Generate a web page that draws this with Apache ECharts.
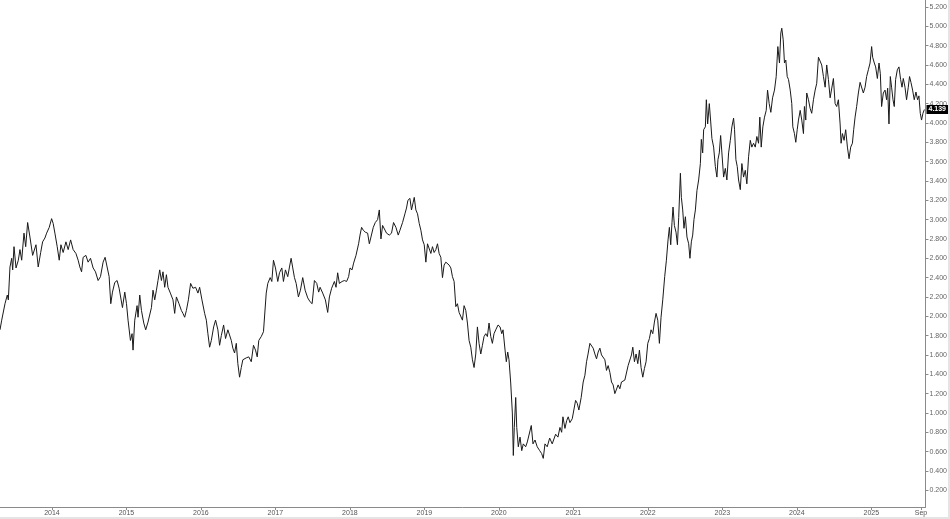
<!DOCTYPE html>
<html>
<head>
<meta charset="utf-8">
<script src="https://cdn.jsdelivr.net/npm/echarts@6/dist/echarts.min.js"></script>
<style>html,body{margin:0;padding:0;background:#fff}#chart{width:950px;height:519px}</style>
</head>
<body>
<div id="chart"></div>
<script>
// Dates as decimal years
const dates = [
2013.303,2013.326,2013.370,2013.401,2013.415,2013.437,2013.460,2013.473,2013.491,2013.518,2013.549,2013.571,2013.594,2013.625,2013.648,2013.674,2013.705,2013.741,2013.763,2013.786,2013.816,2013.849,2013.875,2013.906,2013.929,2013.964,2013.996,
2014.017,2014.040,2014.071,2014.098,2014.121,2014.151,2014.188,2014.218,2014.251,2014.285,2014.322,2014.352,2014.375,2014.398,2014.419,2014.456,2014.486,2014.518,2014.553,2014.585,2014.620,2014.652,2014.687,2014.714,2014.741,2014.768,2014.790,2014.813,2014.844,2014.875,2014.902,2014.924,2014.947,2014.978,
2015.001,2015.022,2015.054,2015.076,2015.089,2015.112,2015.143,2015.156,2015.179,2015.202,2015.233,2015.259,2015.290,2015.336,2015.357,2015.380,2015.403,2015.424,2015.447,2015.470,2015.491,2015.514,2015.537,2015.558,2015.590,2015.625,2015.648,2015.671,2015.706,2015.738,2015.759,2015.782,2015.805,2015.832,2015.862,2015.893,2015.929,2015.960,2015.983,
2016.014,2016.050,2016.073,2016.094,2016.117,2016.140,2016.171,2016.197,2016.228,2016.251,2016.274,2016.305,2016.331,2016.362,2016.385,2016.408,2016.429,2016.452,2016.475,2016.496,2016.519,2016.542,2016.563,2016.586,2016.609,2016.643,2016.676,2016.706,2016.733,2016.756,2016.777,2016.810,2016.840,2016.863,2016.877,2016.898,2016.930,2016.952,2016.974,
2017.001,2017.032,2017.055,2017.086,2017.108,2017.135,2017.166,2017.189,2017.211,2017.233,2017.256,2017.279,2017.309,2017.336,2017.367,2017.399,2017.434,2017.466,2017.493,2017.524,2017.555,2017.581,2017.600,2017.635,2017.671,2017.702,2017.725,2017.755,2017.792,2017.814,2017.836,2017.859,2017.895,2017.926,2017.956,2017.983,
2018.002,2018.029,2018.050,2018.082,2018.117,2018.136,2018.157,2018.180,2018.207,2018.238,2018.261,2018.283,2018.314,2018.341,2018.372,2018.395,2018.417,2018.439,2018.462,2018.492,2018.529,2018.559,2018.586,2018.618,2018.649,2018.672,2018.707,2018.739,2018.760,2018.779,2018.806,2018.827,2018.850,2018.864,2018.886,2018.908,2018.931,2018.953,2018.975,2018.998,
2019.020,2019.042,2019.064,2019.087,2019.109,2019.131,2019.154,2019.176,2019.198,2019.221,2019.243,2019.265,2019.288,2019.310,2019.332,2019.355,2019.377,2019.399,2019.422,2019.444,2019.466,2019.489,2019.511,2019.533,2019.556,2019.578,2019.600,2019.623,2019.645,2019.667,2019.690,2019.712,2019.734,2019.757,2019.779,2019.801,2019.824,2019.846,2019.868,2019.891,2019.913,2019.935,2019.958,2019.989,
2020.016,2020.039,2020.056,2020.083,2020.100,2020.119,2020.136,2020.159,2020.181,2020.194,2020.207,2020.226,2020.240,2020.261,2020.284,2020.307,2020.328,2020.360,2020.382,2020.404,2020.435,2020.458,2020.485,2020.515,2020.548,2020.574,2020.596,2020.619,2020.649,2020.682,2020.716,2020.762,2020.793,2020.820,2020.843,2020.860,2020.887,2020.910,2020.931,2020.954,2020.985,
2021.007,2021.030,2021.052,2021.074,2021.105,2021.132,2021.155,2021.177,2021.195,2021.222,2021.244,2021.266,2021.289,2021.311,2021.333,2021.356,2021.378,2021.400,2021.423,2021.445,2021.467,2021.490,2021.512,2021.534,2021.557,2021.579,2021.601,2021.624,2021.646,2021.668,2021.691,2021.713,2021.735,2021.758,2021.780,2021.798,2021.820,2021.842,2021.865,2021.887,2021.909,2021.932,2021.954,2021.976,2021.999,
2022.021,2022.043,2022.066,2022.088,2022.110,2022.133,2022.155,2022.177,2022.200,2022.226,2022.249,2022.271,2022.289,2022.307,2022.324,2022.338,2022.356,2022.378,2022.397,2022.414,2022.437,2022.450,2022.468,2022.485,2022.504,2022.525,2022.548,2022.565,2022.584,2022.602,2022.619,2022.638,2022.659,2022.682,2022.705,2022.718,2022.736,2022.749,2022.772,2022.785,2022.803,2022.825,2022.843,2022.860,2022.883,2022.906,2022.927,2022.941,2022.959,2022.977,2022.994,
2023.017,2023.040,2023.061,2023.084,2023.107,2023.128,2023.151,2023.164,2023.182,2023.200,2023.218,2023.241,2023.262,2023.285,2023.308,2023.329,2023.352,2023.375,2023.396,2023.419,2023.442,2023.463,2023.486,2023.503,2023.522,2023.544,2023.566,2023.589,2023.607,2023.629,2023.651,2023.674,2023.700,2023.723,2023.745,2023.767,2023.785,2023.798,2023.817,2023.834,2023.852,2023.871,2023.888,2023.911,2023.932,2023.946,2023.968,2023.986,
2024.005,2024.022,2024.045,2024.066,2024.089,2024.102,2024.120,2024.133,2024.156,2024.179,2024.200,2024.223,2024.246,2024.267,2024.290,2024.313,2024.334,2024.357,2024.380,2024.401,2024.424,2024.447,2024.468,2024.491,2024.514,2024.535,2024.558,2024.581,2024.594,2024.612,2024.634,2024.656,2024.679,2024.701,2024.723,2024.746,2024.763,2024.782,2024.803,2024.826,2024.849,2024.870,2024.893,2024.916,2024.937,2024.960,2024.983,
2025.004,2025.018,2025.040,2025.058,2025.081,2025.103,2025.121,2025.138,2025.161,2025.184,2025.205,2025.219,2025.237,2025.255,2025.272,2025.291,2025.308,2025.326,2025.349,2025.371,2025.393,2025.412,2025.429,2025.452,2025.473,2025.496,2025.513,2025.532,2025.554,2025.576,2025.599,2025.621,2025.639,2025.657,2025.674,2025.693,2025.712
];
const yields = [
1.86,1.96,2.13,2.22,2.17,2.51,2.60,2.48,2.72,2.50,2.58,2.69,2.58,2.86,2.72,2.97,2.82,2.63,2.61,2.74,2.51,2.66,2.77,2.81,2.86,2.92,3.01,
2.96,2.86,2.72,2.58,2.74,2.66,2.77,2.69,2.79,2.69,2.65,2.58,2.51,2.46,2.61,2.63,2.56,2.60,2.50,2.46,2.37,2.41,2.56,2.61,2.51,2.41,2.13,2.25,2.35,2.37,2.29,2.29,2.09,2.25,
2.13,1.96,1.75,1.82,1.65,1.96,2.11,1.99,2.22,2.06,1.93,1.86,1.94,2.09,2.27,2.17,2.27,2.37,2.48,2.37,2.46,2.30,2.43,2.30,2.24,2.17,2.03,2.20,2.13,2.06,2.03,1.99,2.06,2.17,2.34,2.29,2.30,2.24,2.30,
2.17,2.03,1.96,1.82,1.68,1.75,1.89,1.96,1.86,1.70,1.80,1.91,1.77,1.86,1.84,1.75,1.67,1.62,1.72,1.51,1.37,1.47,1.55,1.53,1.57,1.58,1.53,1.70,1.65,1.58,1.75,1.79,1.84,1.82,2.24,2.34,2.40,2.36,2.58,
2.50,2.36,2.45,2.50,2.36,2.48,2.41,2.51,2.60,2.50,2.40,2.34,2.20,2.27,2.40,2.27,2.19,2.15,2.13,2.37,2.34,2.25,2.30,2.24,2.17,2.04,2.20,2.29,2.36,2.30,2.45,2.34,2.36,2.37,2.36,2.41,
2.50,2.48,2.55,2.63,2.75,2.84,2.92,2.89,2.87,2.86,2.75,2.82,2.92,2.97,3.00,3.10,2.80,2.94,2.96,2.86,2.84,2.86,2.97,2.92,2.84,2.89,2.97,3.06,3.12,3.20,3.22,3.10,3.18,3.23,3.10,3.06,2.96,2.89,2.79,2.74,
2.56,2.75,2.77,2.65,2.72,2.66,2.69,2.75,2.65,2.61,2.40,2.53,2.56,2.58,2.53,2.50,2.41,2.36,2.10,2.13,2.04,2.03,1.96,2.11,2.06,1.93,1.75,1.68,1.55,1.47,1.61,1.89,1.72,1.61,1.70,1.79,1.82,1.79,1.93,1.79,1.72,1.82,1.86,1.91,
1.89,1.82,1.86,1.65,1.53,1.63,1.55,1.31,1.00,0.56,0.85,1.16,0.85,0.65,0.75,0.61,0.68,0.65,0.70,0.68,0.87,0.68,0.72,0.65,0.61,0.58,0.53,0.68,0.65,0.74,0.68,0.78,0.75,0.85,0.80,0.96,0.84,0.92,0.96,0.90,0.94,
0.92,1.13,1.10,1.03,1.16,1.32,1.39,1.53,1.60,1.72,1.74,1.67,1.61,1.56,1.63,1.67,1.60,1.61,1.55,1.44,1.49,1.42,1.32,1.29,1.20,1.18,1.29,1.25,1.32,1.30,1.34,1.32,1.49,1.47,1.60,1.68,1.53,1.61,1.51,1.65,1.47,1.37,1.46,1.53,1.72,
1.77,1.86,1.82,1.94,2.03,1.96,1.72,1.99,2.17,2.41,2.58,2.79,2.92,2.74,2.97,3.13,2.94,2.87,2.74,3.02,3.48,3.23,3.10,2.91,3.03,2.82,2.75,2.60,2.77,2.84,3.00,3.10,3.30,3.41,3.58,3.83,3.69,3.93,3.96,4.24,3.99,4.20,4.02,3.84,3.75,3.55,3.44,3.62,3.69,3.87,3.69,
3.44,3.53,3.41,3.69,3.82,3.96,4.05,3.93,3.62,3.55,3.41,3.31,3.58,3.44,3.51,3.37,3.65,3.82,3.75,3.79,3.75,3.86,3.79,4.06,3.75,3.96,4.06,4.13,4.34,4.20,4.11,4.26,4.34,4.48,4.79,4.62,4.93,4.98,4.86,4.62,4.65,4.48,4.45,4.34,4.20,3.96,3.89,3.80,
3.93,4.03,4.13,4.03,3.89,4.17,4.03,4.31,4.24,4.15,4.10,4.24,4.34,4.41,4.68,4.70,4.60,4.48,4.37,4.60,4.45,4.26,4.24,4.46,4.20,4.17,4.24,3.99,3.79,3.89,3.82,3.93,3.75,3.63,3.75,3.79,3.93,4.06,4.17,4.31,4.42,4.42,4.31,4.37,4.48,4.55,4.62,
4.79,4.68,4.62,4.58,4.46,4.62,4.51,4.17,4.31,4.34,4.24,4.36,3.99,4.48,4.37,4.24,4.17,4.45,4.55,4.58,4.45,4.37,4.46,4.37,4.24,4.37,4.48,4.42,4.34,4.24,4.32,4.24,4.28,4.10,4.03,4.10,4.139
];
const xTickValues = [2014,2015,2016,2017,2018,2019,2020,2021,2022,2023,2024,2025,2025.666];
const xTickLabels = ['2014','2015','2016','2017','2018','2019','2020','2021','2022','2023','2024','2025','Sep'];
const yTickValues = [0.2,0.4,0.6,0.8,1.0,1.2,1.4,1.6,1.8,2.0,2.2,2.4,2.6,2.8,3.0,3.2,3.4,3.6,3.8,4.0,4.2,4.4,4.6,4.8,5.0,5.2];

const seriesData = dates.map((d, i) => [d, yields[i]]);
const lastValue = yields[yields.length - 1];

const chart = echarts.init(document.getElementById('chart'), null, {renderer: 'canvas'});
chart.setOption({
  animation: false,
  backgroundColor: '#ffffff',
  textStyle: {fontFamily: 'Liberation Sans, Arial, sans-serif'},
  grid: {left: 0, right: 23, top: 0, bottom: 12, containLabel: false},
  xAxis: {
    type: 'value',
    min: 2013.303,
    max: 2025.727,
    axisLine: {show: true, lineStyle: {color: '#8a8a8a', width: 1}},
    axisTick: {show: true, length: 3, lineStyle: {color: '#8a8a8a'}, customValues: xTickValues},
    axisLabel: {
      customValues: xTickValues,
      margin: 3,
      fontSize: 7,
      color: '#555',
      formatter: function (v) {
        for (let i = 0; i < xTickValues.length; i++) {
          if (Math.abs(xTickValues[i] - v) < 1e-6) return xTickLabels[i];
        }
        return '';
      }
    },
    splitLine: {show: false}
  },
  yAxis: {
    type: 'value',
    position: 'right',
    min: 0.027,
    max: 5.272,
    axisLine: {show: true, lineStyle: {color: '#8a8a8a', width: 1}},
    axisTick: {show: true, length: 3, lineStyle: {color: '#8a8a8a'}, customValues: yTickValues},
    axisLabel: {
      customValues: yTickValues,
      margin: 4,
      fontSize: 7,
      color: '#666',
      formatter: v => v.toFixed(3)
    },
    splitLine: {show: false}
  },
  graphic: [
    {type: 'rect', shape: {x: 0, y: 517, width: 950, height: 2}, style: {fill: '#e4e4e4'}, silent: true},
    {type: 'rect', shape: {x: 948, y: 0, width: 2, height: 519}, style: {fill: '#e4e4e4'}, silent: true}
  ],
  series: [{
    type: 'line',
    data: seriesData,
    showSymbol: false,
    symbol: 'none',
    lineStyle: {color: '#1a1a1a', width: 1},
    silent: true,
    markLine: {
      silent: true,
      precision: 3,
      symbol: ['none', 'none'],
      animation: false,
      lineStyle: {color: 'rgba(0,0,0,0)', width: 1, type: 'solid'},
      label: {
        show: true,
        position: 'end',
        distance: 1,
        formatter: p => Number(p.value).toFixed(3),
        backgroundColor: '#000',
        color: '#fff',
        opacity: 1,
        fontSize: 7,
        fontWeight: 'bold',
        padding: [1, 2, 1, 2]
      },
      emphasis: {disabled: true},
      data: [{yAxis: lastValue}]
    }
  }]
});
</script>
</body>
</html>
